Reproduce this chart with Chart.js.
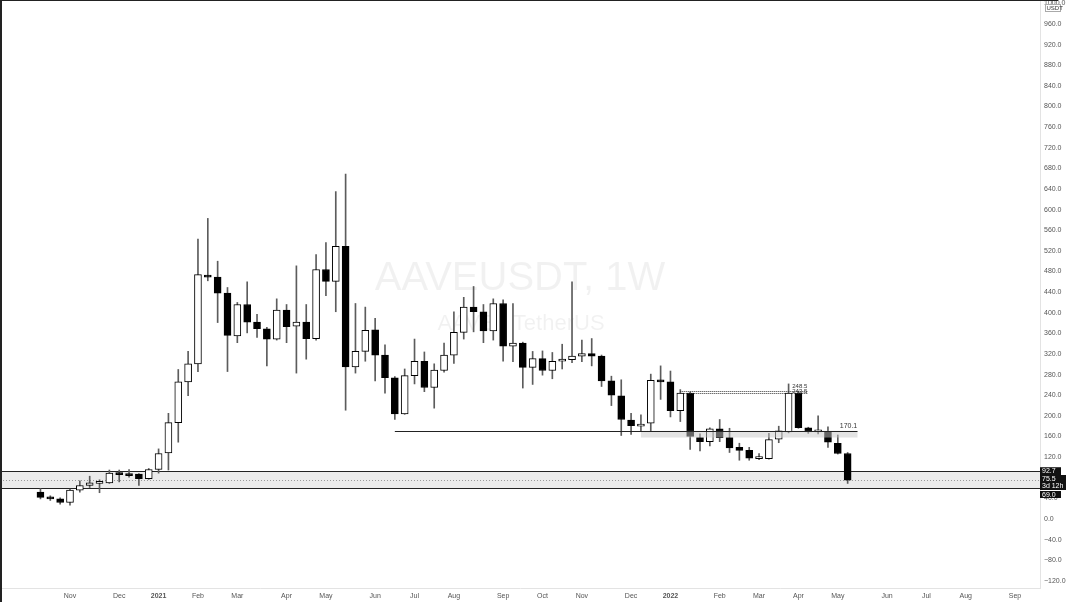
<!DOCTYPE html>
<html><head><meta charset="utf-8">
<script src="https://cdn.jsdelivr.net/npm/chart.js@4.4.1/dist/chart.umd.min.js"></script>
<style>html,body{margin:0;padding:0;background:#fff;overflow:hidden}#wrap{width:1069px;height:602px;position:relative}</style>
</head><body><div id="wrap"><canvas id="c" width="1069" height="602"></canvas></div>
<script>
// ---- DATA ----
const weeks = ['2020-10-12','2020-10-19','2020-10-26','2020-11-02','2020-11-09','2020-11-16','2020-11-23','2020-11-30','2020-12-07','2020-12-14','2020-12-21','2020-12-28',
'2021-01-04','2021-01-11','2021-01-18','2021-01-25','2021-02-01','2021-02-08','2021-02-15','2021-02-22','2021-03-01','2021-03-08','2021-03-15','2021-03-22','2021-03-29',
'2021-04-05','2021-04-12','2021-04-19','2021-04-26','2021-05-03','2021-05-10','2021-05-17','2021-05-24','2021-05-31','2021-06-07','2021-06-14','2021-06-21','2021-06-28',
'2021-07-05','2021-07-12','2021-07-19','2021-07-26','2021-08-02','2021-08-09','2021-08-16','2021-08-23','2021-08-30','2021-09-06','2021-09-13','2021-09-20','2021-09-27',
'2021-10-04','2021-10-11','2021-10-18','2021-10-25','2021-11-01','2021-11-08','2021-11-15','2021-11-22','2021-11-29','2021-12-06','2021-12-13','2021-12-20','2021-12-27',
'2022-01-03','2022-01-10','2022-01-17','2022-01-24','2022-01-31','2022-02-07','2022-02-14','2022-02-21','2022-02-28','2022-03-07','2022-03-14','2022-03-21','2022-03-28',
'2022-04-04','2022-04-11','2022-04-18','2022-04-25','2022-05-02','2022-05-09'];
const openP  = [52,42,39,32,56,65,69,70,90,86,87,78, 96,128,187,266,301,473,469,438,355,416,382,369,349, 405,374,382,350,484,461,529,295,325,367,318,274,204, 278,306,255,288,318,362,411,402,365,418,335,341,294, 311,288,306,309,316,321,316,268,239,192,180,186,269, 266,210,244,158,150,175,158,139,133,117,117,155,169, 244,177,169,169,147,127];
const highP  = [59,45,41,58,74,83,76,95,95,96,88,98, 136,205,290,325,543,583,500,449,420,460,397,372,427, 416,491,416,513,536,635,669,418,411,389,338,276,291, 349,324,301,341,402,430,451,416,427,425,418,343,325, 326,323,339,460,347,350,318,277,270,205,202,281,297, 287,251,246,165,177,193,176,147,139,127,166,180,262, 248,178,200,179,163,129];
const lowP   = [39,36,29,27,52,61,51,69,72,81,65,77, 89,95,149,239,286,462,381,286,342,361,352,297,347, 342,283,310,347,433,402,211,283,306,268,244,193,203, 262,247,215,285,302,349,363,342,347,306,305,254,261, 279,272,291,303,305,297,257,220,162,164,171,171,232, 198,189,135,132,142,150,129,114,114,115,116,148,167, 176,166,165,139,126,69];
const closeP = [42,39,32,56,65,70,70,89,86,84,78,96, 127,187,266,301,474,469,438,356,416,382,369,349,405, 373,382,350,484,461,529,295,325,366,318,274,204,278, 306,255,289,318,362,411,402,365,418,335,341,294,311, 288,306,310,316,321,316,268,240,193,181,184,269,266, 210,244,160,150,175,158,138,133,118,118,154,171,244, 177,169,171,149,127,75.5];

const tickDates  = ['2020-11-02','2020-12-07','2021-01-04','2021-02-01','2021-03-01','2021-04-05','2021-05-03','2021-06-07','2021-07-05','2021-08-02','2021-09-06','2021-10-04','2021-11-01','2021-12-06','2022-01-03','2022-02-07','2022-03-07','2022-04-04','2022-05-02','2022-06-06','2022-07-04','2022-08-01','2022-09-05'];
const tickLabels = ['Nov','Dec','2021','Feb','Mar','Apr','May','Jun','Jul','Aug','Sep','Oct','Nov','Dec','2022','Feb','Mar','Apr','May','Jun','Jul','Aug','Sep'];
const priceTicks = [-120,-80,-40,0,40,80,120,160,200,240,280,320,360,400,440,480,520,560,600,640,680,720,760,800,840,880,920,960];
const topTick = 1000;

const zoneBand   = [61, 92.7];
const lastPrice  = 75.5;
const lowLabel   = 69.0;
const countdown  = '3d 12h';
const supportLvl = {value:170.1, from:'2021-06-21', to:'2022-05-16'};
const supportBox = {top:171, bottom:158, from:'2021-12-13', to:'2022-05-16'};
const dottedLvls = [{value:248.5, label:'248.5'},{value:243.5, label:'243.5'}];
const dottedSpan = ['2022-01-10','2022-04-11'];
const title = 'AAVEUSDT, 1W';
const subtitle = 'AAVE / TetherUS';
const quoteCur = 'USDT';

// ---- helpers ----
const DAY = 86400000;
const wk = d => (Date.parse(d) - Date.parse(weeks[0])) / (7*DAY);
const FAM = '"Liberation Sans", Arial, sans-serif';
const fmt = v => (v < 0 ? '\u2212' : '') + Math.abs(v).toFixed(1);

const overlay = {
  id:'overlay',
  beforeDraw(chart){
    const {ctx} = chart;
    ctx.save();
    ctx.fillStyle = '#fff'; ctx.fillRect(0,0,chart.width,chart.height);
    ctx.fillStyle = 'rgba(0,0,0,0.055)';
    ctx.textAlign = 'center'; ctx.textBaseline = 'middle';
    ctx.font = '40px ' + FAM;
    ctx.fillText(title, 520, 279);
    ctx.font = '22px ' + FAM;
    ctx.fillText(subtitle, 521, 324);
    ctx.restore();
  },
  beforeDatasetsDraw(chart){
    const {ctx, chartArea:a, scales:{y}} = chart;
    const yt = Math.round(y.getPixelForValue(zoneBand[1])) + 0.5;
    const yb = Math.round(y.getPixelForValue(zoneBand[0])) + 0.5;
    ctx.save();
    ctx.fillStyle = '#ebebeb';
    ctx.fillRect(a.left, yt, a.right - a.left, yb - yt);
    ctx.strokeStyle = '#9a9a9a'; ctx.lineWidth = 1; ctx.setLineDash([1,2]);
    const yp = Math.round(y.getPixelForValue(lastPrice)) + 0.5;
    ctx.beginPath(); ctx.moveTo(a.left, yp); ctx.lineTo(a.right, yp); ctx.stroke();
    ctx.setLineDash([]);
    ctx.strokeStyle = '#222';
    ctx.beginPath(); ctx.moveTo(a.left, yt); ctx.lineTo(a.right, yt);
    ctx.moveTo(a.left, yb); ctx.lineTo(a.right, yb); ctx.stroke();
    ctx.restore();
  },
  afterDatasetsDraw(chart){
    const {ctx, scales:{x,y}} = chart;
    ctx.save();
    const bx1 = x.getPixelForValue(wk(supportBox.from)), bx2 = x.getPixelForValue(wk(supportBox.to));
    const by1 = y.getPixelForValue(supportBox.top), by2 = y.getPixelForValue(supportBox.bottom);
    ctx.fillStyle = 'rgba(200,200,200,0.5)';
    ctx.fillRect(bx1, by1, bx2-bx1, by2-by1);
    const sy = Math.round(y.getPixelForValue(supportLvl.value)) + 0.5;
    const sx1 = x.getPixelForValue(wk(supportLvl.from)), sx2 = x.getPixelForValue(wk(supportLvl.to));
    ctx.strokeStyle = '#222'; ctx.lineWidth = 1;
    ctx.beginPath(); ctx.moveTo(sx1, sy); ctx.lineTo(sx2, sy); ctx.stroke();
    ctx.fillStyle = '#333'; ctx.font = '7px ' + FAM; ctx.textAlign = 'center'; ctx.textBaseline = 'bottom';
    ctx.fillText(supportLvl.value.toFixed(1), sx2 - 9, sy - 1.5);
    const dx1 = x.getPixelForValue(wk(dottedSpan[0])), dx2 = x.getPixelForValue(wk(dottedSpan[1]));
    ctx.setLineDash([1,1]); ctx.strokeStyle = '#333';
    const ys = dottedLvls.map(l => Math.round(y.getPixelForValue(l.value)) + 0.5);
    ys.forEach(py => { ctx.beginPath(); ctx.moveTo(dx1, py); ctx.lineTo(dx2, py); ctx.stroke(); });
    ctx.setLineDash([]);
    ctx.font = '6px ' + FAM; ctx.textAlign = 'right'; ctx.fillStyle = '#333';
    ctx.fillText(dottedLvls[0].label, dx2 - 1, ys[0] - 2);
    ctx.fillText(dottedLvls[1].label, dx2 - 1, ys[0] + 3);
    ctx.restore();
  },
  afterDraw(chart){
    const {ctx, chartArea:a, scales:{y}} = chart;
    ctx.save();
    ctx.font = '7px ' + FAM; ctx.textBaseline = 'middle'; ctx.textAlign = 'left';
    ctx.fillStyle = '#555';
    ctx.fillText(fmt(topTick), a.right + 4, y.getPixelForValue(topTick));
    const box = (py, h, w, lines) => {
      ctx.fillStyle = '#111';
      ctx.fillRect(a.right, py - h/2, w, h);
      ctx.fillStyle = '#fff';
      lines.forEach((t, k) => ctx.fillText(t, a.right + 2, py - h/2 + 4 + k*7));
    };
    box(y.getPixelForValue(zoneBand[1]), 8, 21, [zoneBand[1].toFixed(1)]);
    box(482.5, 15, 26, [lastPrice.toFixed(1), countdown]);
    box(494.5, 7, 21, [lowLabel.toFixed(1)]);
    ctx.fillStyle = '#fff'; ctx.fillRect(a.right + 5, 4, 16, 8);
    ctx.strokeStyle = '#aaa'; ctx.strokeRect(a.right + 5.5, 4.5, 15, 7);
    ctx.fillStyle = '#333'; ctx.font = '6px ' + FAM; ctx.fillText(quoteCur, a.right + 6.5, 8.3);
    ctx.fillStyle = '#222';
    ctx.fillRect(0, 0, 2, chart.height);
    ctx.fillRect(0, 0, a.right + 18, 1);
    ctx.restore();
  }
};

new Chart(document.getElementById('c'), {
  type:'bar',
  data:{ datasets:[
    { label:'wick', data: weeks.map((d,i)=>({x:wk(d), y:[lowP[i], highP[i]]})),
      backgroundColor:'#5c5c5c', barThickness:1, grouped:false, order:2 },
    { label:'body', data: weeks.map((d,i)=>({x:wk(d), y:[openP[i], closeP[i]]})),
      backgroundColor: weeks.map((d,i)=> closeP[i] >= openP[i] ? '#ffffff' : '#000000'),
      borderColor:'#000', borderWidth:1, borderSkipped:false, barThickness:7, minBarLength:2, grouped:false, order:1 }
  ]},
  options:{
    responsive:false, maintainAspectRatio:false, animation:false,
    layout:{padding:0},
    plugins:{legend:{display:false}, tooltip:{enabled:false}},
    scales:{
      x:{ type:'linear', min:-4.11, max:101.54, offset:false,
        afterBuildTicks: s => { s.ticks = tickDates.map(d => ({value: wk(d)})); },
        afterFit: s => { s.height = 14; s.paddingLeft = 0; s.paddingRight = 0; },
        grid:{display:false, drawTicks:false}, border:{display:true, color:'#e3e3e3'},
        ticks:{ autoSkip:false, maxRotation:0, padding:4, color:'#555',
          font: c => ({size:7, family:FAM, weight: /^\d{4}$/.test(tickLabels[c.index]) ? 'bold' : 'normal'}),
          callback:(v,i) => tickLabels[i] } },
      y:{ type:'linear', position:'right', min:-133.8, max:1006.6,
        afterBuildTicks: s => { s.ticks = priceTicks.map(v => ({value:v})); },
        afterFit: s => { s.width = 29; s.paddingTop = 0; s.paddingBottom = 0; },
        grid:{display:false, drawTicks:false}, border:{display:true, color:'#e3e3e3'},
        ticks:{ autoSkip:false, padding:4, crossAlign:'near', color:'#555', font:{size:7, family:FAM},
          callback: v => fmt(v) } }
    }
  },
  plugins:[overlay]
});
</script></body></html>
